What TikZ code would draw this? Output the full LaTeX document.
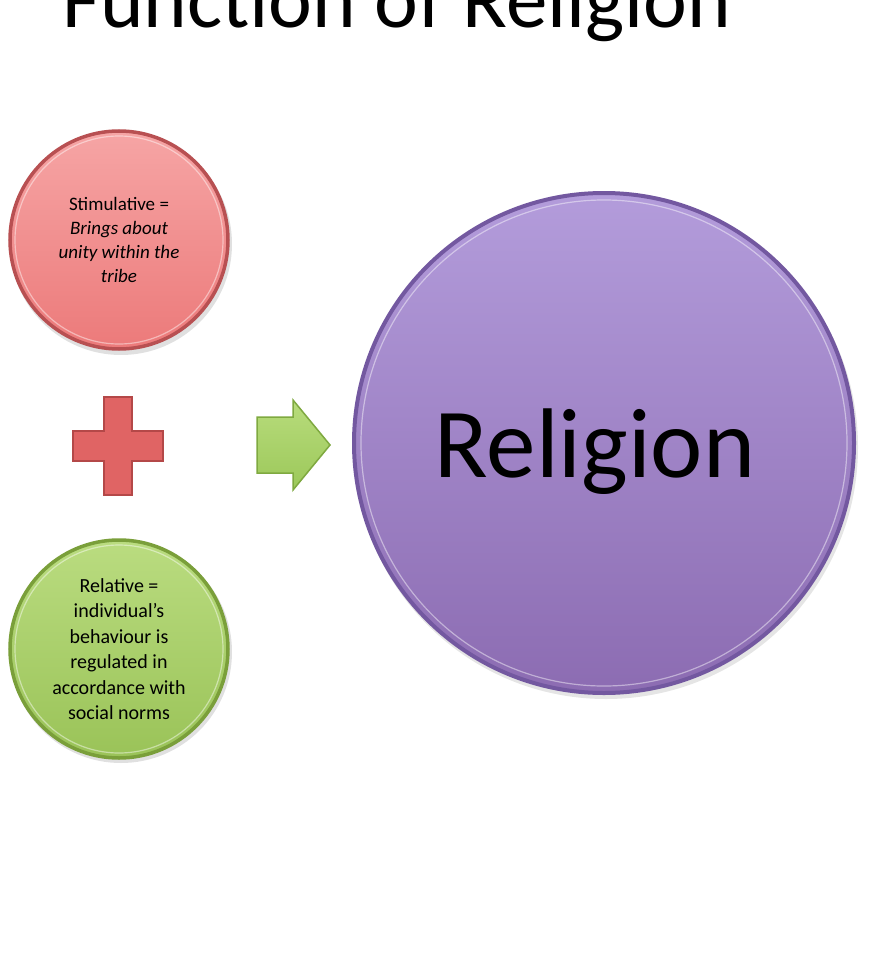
\documentclass[tikz,border=0pt]{standalone}
\usepackage{fontspec}
\setmainfont{Carlito}
\definecolor{redtop}{HTML}{F6A5A5}
\definecolor{redbot}{HTML}{EC7A7A}
\definecolor{rededge}{HTML}{B85052}
\definecolor{grntop}{HTML}{BADC80}
\definecolor{grnbot}{HTML}{9AC358}
\definecolor{grnedge}{HTML}{7A9F3A}
\definecolor{purtop}{HTML}{B39CDB}
\definecolor{purbot}{HTML}{8C6CB2}
\definecolor{puredge}{HTML}{7358A0}
\definecolor{plusfill}{HTML}{E06464}
\definecolor{plusedge}{HTML}{B44848}
\definecolor{arrtop}{HTML}{B8DC7C}
\definecolor{arrbot}{HTML}{9CC85A}
\definecolor{arredge}{HTML}{7FA940}
\tikzset{
  bubble/.style={circle, inner sep=0pt, align=center, line width=3.5pt},
  rim/.style={line width=1.2pt, white, opacity=0.45},
}
\begin{document}
\begin{tikzpicture}[x=1pt,y=-1pt]
\clip (0,0) rectangle (871,971);
\fill[white] (0,0) rectangle (871,971);
% title
\node[anchor=base west, inner sep=0pt, font=\fontsize{83}{90}\selectfont] (title) at (62,28) {Function of Religion};
% red circle
\fill[black, opacity=0.12] (121,244) circle (111);
\node[bubble, minimum size=218, top color=redtop, bottom color=redbot, draw=rededge,
      font=\fontsize{19}{24}\selectfont] (stim) at (119,240)
  {Stimulative =\\ \textit{Brings about}\\ \textit{unity within the}\\ \textit{tribe}};
\draw[rim] (stim.center) circle (104);
% green circle
\fill[black, opacity=0.12] (121,652) circle (111);
\node[bubble, minimum size=218, top color=grntop, bottom color=grnbot, draw=grnedge,
      font=\fontsize{20}{25.5}\selectfont] (rel) at (119,649)
  {Relative =\\ individual's\\ behaviour is\\ regulated in\\ accordance with\\ social norms};
\draw[rim] (rel.center) circle (104);
% plus
\coordinate (plus) at (118,446);
\filldraw[fill=plusfill, draw=plusedge, line width=1.5pt]
  ([shift={(-14,-49)}]plus) -- ([shift={(14,-49)}]plus) -- ([shift={(14,-15)}]plus)
  -- ([shift={(45,-15)}]plus) -- ([shift={(45,15)}]plus) -- ([shift={(14,15)}]plus)
  -- ([shift={(14,49)}]plus) -- ([shift={(-14,49)}]plus) -- ([shift={(-14,15)}]plus)
  -- ([shift={(-45,15)}]plus) -- ([shift={(-45,-15)}]plus) -- ([shift={(-14,-15)}]plus) -- cycle;
% arrow
\coordinate (arr) at (257,445);
\filldraw[top color=arrtop, bottom color=arrbot, draw=arredge, line width=1.5pt]
  ([shift={(0,-28)}]arr) -- ([shift={(36,-28)}]arr) -- ([shift={(36,-45)}]arr)
  -- ([shift={(73,0)}]arr) -- ([shift={(36,45)}]arr) -- ([shift={(36,28)}]arr)
  -- ([shift={(0,28)}]arr) -- cycle;
% purple circle
\fill[black, opacity=0.10] (606,447) circle (252);
\node[bubble, minimum size=500, top color=purtop, bottom color=purbot, draw=puredge,
      line width=4pt] (relig) at (604,443) {};
\draw[rim] (relig.center) circle (243);
\node[anchor=base, inner sep=0pt, font=\fontsize{99}{100}\selectfont] (religlbl) at (595,477) {Religion};
\end{tikzpicture}
\end{document}
